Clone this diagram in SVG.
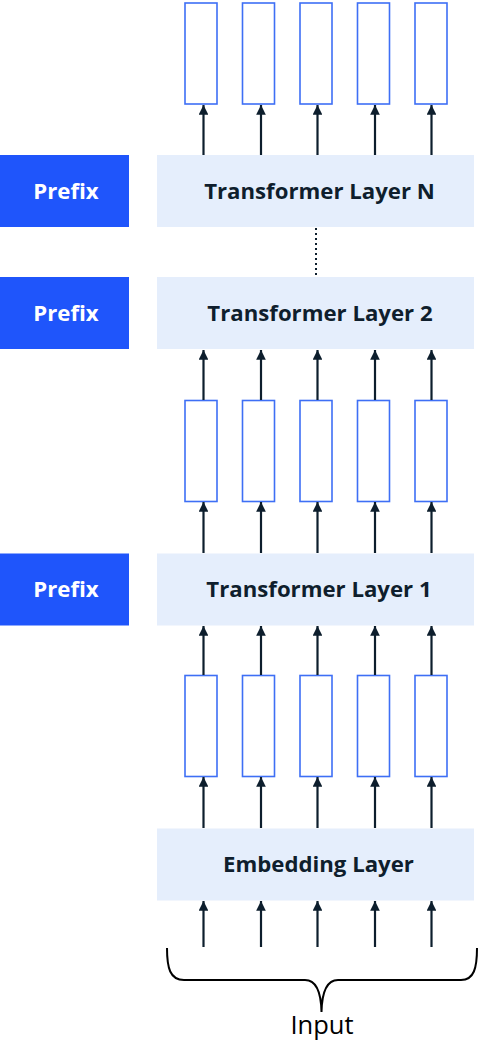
<svg xmlns="http://www.w3.org/2000/svg" width="479" height="1041" viewBox="0 0 479 1041">
<style>
.layer{fill:#e5eefc}
.prefix{fill:#1f55fb}
.vec{fill:#fff;stroke:#3e6ff5;stroke-width:1.6}
.lt{font-family:"Open Sans","Noto Sans",sans-serif;font-weight:bold;font-size:22.2px;fill:#0f1e2d;text-anchor:middle}
.pt{font-family:"Open Sans","Noto Sans",sans-serif;font-weight:bold;font-size:22.2px;fill:#fff;text-anchor:middle}
.arr{stroke:#0d1e2d;stroke-width:2.2;fill:none;marker-end:url(#ah)}
</style>
<defs>
<marker id="ah" viewBox="0 0 10 10" refX="10" refY="5" markerWidth="4.4" markerHeight="4.4" orient="auto" markerUnits="strokeWidth">
<path d="M0,0 L10,5 L0,10 z" fill="#0d1e2d"/>
</marker>
</defs>
<rect width="479" height="1041" fill="#fff"/>
<g id="vectors-top">
<rect class="vec" x="185" y="3" width="32" height="101"/>
<rect class="vec" x="242.5" y="3" width="32" height="101"/>
<rect class="vec" x="300" y="3" width="32" height="101"/>
<rect class="vec" x="357.5" y="3" width="32" height="101"/>
<rect class="vec" x="415" y="3" width="32" height="101"/>
</g>
<g id="vectors-mid">
<rect class="vec" x="185" y="400.5" width="32" height="101"/>
<rect class="vec" x="242.5" y="400.5" width="32" height="101"/>
<rect class="vec" x="300" y="400.5" width="32" height="101"/>
<rect class="vec" x="357.5" y="400.5" width="32" height="101"/>
<rect class="vec" x="415" y="400.5" width="32" height="101"/>
</g>
<g id="vectors-low">
<rect class="vec" x="185" y="675.5" width="32" height="101"/>
<rect class="vec" x="242.5" y="675.5" width="32" height="101"/>
<rect class="vec" x="300" y="675.5" width="32" height="101"/>
<rect class="vec" x="357.5" y="675.5" width="32" height="101"/>
<rect class="vec" x="415" y="675.5" width="32" height="101"/>
</g>
<g id="layerN"><rect class="layer" x="157" y="155" width="317" height="72"/><text class="lt" x="319.5" y="199">Transformer Layer N</text></g>
<g id="prefixN"><rect class="prefix" x="0" y="155" width="129" height="72"/><text class="pt" x="66" y="199">Prefix</text></g>
<g id="layer2"><rect class="layer" x="157" y="277" width="317" height="72"/><text class="lt" x="320" y="321">Transformer Layer 2</text></g>
<g id="prefix2"><rect class="prefix" x="0" y="277" width="129" height="72"/><text class="pt" x="66" y="321">Prefix</text></g>
<g id="layer1"><rect class="layer" x="157" y="553.5" width="317" height="72"/><text class="lt" x="319" y="597">Transformer Layer 1</text></g>
<g id="prefix1"><rect class="prefix" x="0" y="553.5" width="129" height="72"/><text class="pt" x="66" y="597">Prefix</text></g>
<g id="embedding"><rect class="layer" x="157" y="828.5" width="317" height="72"/><text class="lt" x="318.5" y="872">Embedding Layer</text></g>
<g id="connectors">
<line class="arr" x1="203.5" y1="155" x2="203.5" y2="105"/>
<line class="arr" x1="261" y1="155" x2="261" y2="105"/>
<line class="arr" x1="317.5" y1="155" x2="317.5" y2="105"/>
<line class="arr" x1="375" y1="155" x2="375" y2="105"/>
<line class="arr" x1="431.5" y1="155" x2="431.5" y2="105"/>
<line x1="316" y1="228" x2="316" y2="277" stroke="#0d1e2d" stroke-width="2" stroke-dasharray="2,3"/>
<line class="arr" x1="203.5" y1="400" x2="203.5" y2="350"/>
<line class="arr" x1="261" y1="400" x2="261" y2="350"/>
<line class="arr" x1="317.5" y1="400" x2="317.5" y2="350"/>
<line class="arr" x1="375" y1="400" x2="375" y2="350"/>
<line class="arr" x1="431.5" y1="400" x2="431.5" y2="350"/>
<line class="arr" x1="203.5" y1="553" x2="203.5" y2="502"/>
<line class="arr" x1="261" y1="553" x2="261" y2="502"/>
<line class="arr" x1="317.5" y1="553" x2="317.5" y2="502"/>
<line class="arr" x1="375" y1="553" x2="375" y2="502"/>
<line class="arr" x1="431.5" y1="553" x2="431.5" y2="502"/>
<line class="arr" x1="203.5" y1="675" x2="203.5" y2="626"/>
<line class="arr" x1="261" y1="675" x2="261" y2="626"/>
<line class="arr" x1="317.5" y1="675" x2="317.5" y2="626"/>
<line class="arr" x1="375" y1="675" x2="375" y2="626"/>
<line class="arr" x1="431.5" y1="675" x2="431.5" y2="626"/>
<line class="arr" x1="203.5" y1="828" x2="203.5" y2="777"/>
<line class="arr" x1="261" y1="828" x2="261" y2="777"/>
<line class="arr" x1="317.5" y1="828" x2="317.5" y2="777"/>
<line class="arr" x1="375" y1="828" x2="375" y2="777"/>
<line class="arr" x1="431.5" y1="828" x2="431.5" y2="777"/>
<line class="arr" x1="203.5" y1="947" x2="203.5" y2="901"/>
<line class="arr" x1="261" y1="947" x2="261" y2="901"/>
<line class="arr" x1="317.5" y1="947" x2="317.5" y2="901"/>
<line class="arr" x1="375" y1="947" x2="375" y2="901"/>
<line class="arr" x1="431.5" y1="947" x2="431.5" y2="901"/>
</g>
<g id="brace">
<path d="M167,948 C167,968 170,980 184,980 L305,980 C315,980 321,990 321.5,1012 C322,990 328,980 338,980 L461,980 C474,980 477,968 477,948" fill="none" stroke="#000" stroke-width="2"/>
<text x="322" y="1033.5" font-family="'Open Sans','Noto Sans',sans-serif" font-size="25.5" fill="#000" text-anchor="middle">Input</text>
</g>
</svg>
